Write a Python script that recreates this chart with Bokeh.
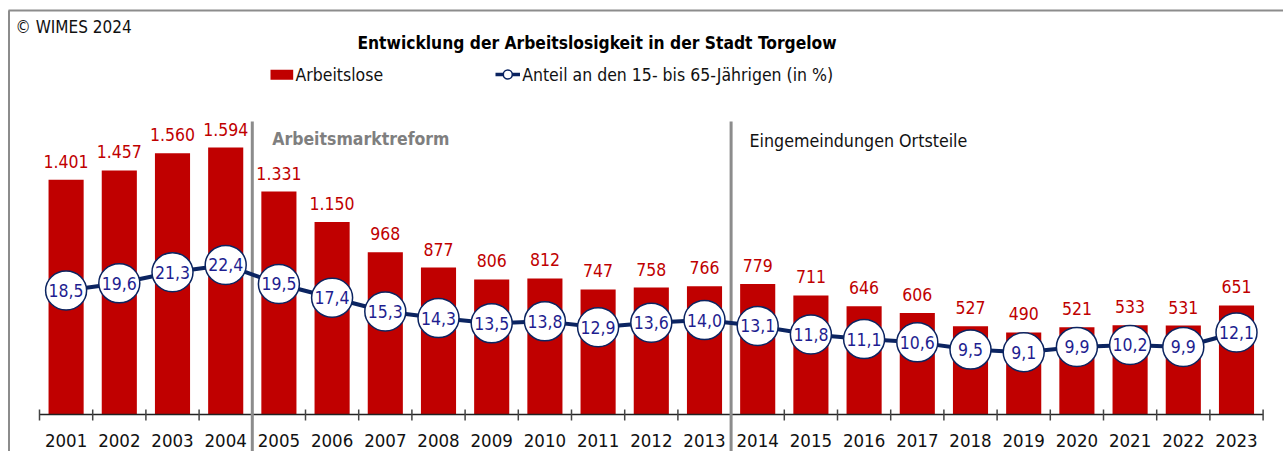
from bokeh.plotting import figure
from bokeh.models import Range1d, ColumnDataSource
from bokeh.core.properties import value
from bokeh.embed import file_html
from bokeh.resources import INLINE

# ---------------- data ----------------
years = ["2001", "2002", "2003", "2004", "2005", "2006", "2007", "2008", "2009", "2010",
         "2011", "2012", "2013", "2014", "2015", "2016", "2017", "2018", "2019", "2020",
         "2021", "2022", "2023"]
arbeitslose = [1401, 1457, 1560, 1594, 1331, 1150, 968, 877, 806, 812, 747, 758, 766,
               779, 711, 646, 606, 527, 490, 521, 533, 531, 651]
anteil = [18.5, 19.6, 21.3, 22.4, 19.5, 17.4, 15.3, 14.3, 13.5, 13.8, 12.9, 13.6, 14.0,
          13.1, 11.8, 11.1, 10.6, 9.5, 9.1, 9.9, 10.2, 9.9, 12.1]
title_text = "Entwicklung der Arbeitslosigkeit in der Stadt Torgelow"
copyright_text = "© WIMES 2024"
legend_bar = "Arbeitslose"
legend_line = "Anteil an den 15- bis 65-Jährigen (in %)"
events = ["Arbeitsmarktreform", "Eingemeindungen Ortsteile"]
event_after = [4.5, 13.5]   # boundaries between categories (2004|2005, 2013|2014)

# ---------------- layout helpers (page pixels -> data) ----------------
W, H = 1283, 451
OFF = 0
PITCH = 53.2
C1 = 65.6          # page x of first category centre
BASE = 414.0       # page y of bar baseline
K1 = 0.1675        # px per Arbeitslose unit
LBASE = 411.4      # page y of pct zero
K2 = 6.56          # px per percent


def X(px):
    return 1 + (px - C1) / PITCH


def Y(py):
    return (BASE - py) / K1


FONT = value("DejaVu Sans Condensed")
RED = "#C00000"
NAVY = "#0B2461"
LBLUE = "#1E1E90"
GRAY = "#8C8C8C"

xs = list(range(1, len(years) + 1))

p = figure(width=W, height=H,
           x_range=Range1d(X(OFF), X(OFF + W)),
           y_range=Range1d(Y(OFF + H), Y(OFF)),
           output_backend="svg", toolbar_location=None,
           x_axis_type=None, y_axis_type=None, min_border=0)
p.extra_y_ranges = {"pct": Range1d((LBASE - (OFF + H)) / K2, (LBASE - OFF) / K2)}
p.grid.visible = False
p.outline_line_color = None
p.background_fill_color = "white"
p.border_fill_color = "white"

src = ColumnDataSource(dict(
    x=xs, year=years, val=arbeitslose, pct=anteil,
    val_lbl=[f"{v:,}".replace(",", ".") for v in arbeitslose],
    pct_lbl=[f"{v:.1f}".replace(".", ",") for v in anteil],
))

# outer frame (top and left)
p.segment(x0=X(8), y0=Y(10), x1=X(OFF + W), y1=Y(10), line_color=GRAY, line_width=2)
p.segment(x0=X(8.5), y0=Y(10), x1=X(8.5), y1=Y(OFF + H), line_color=GRAY, line_width=2)

# bars
p.vbar(x="x", top="val", width=0.66, source=src, fill_color=RED, line_color=None)
p.text(x="x", y="val", text="val_lbl", source=src, text_color=RED, text_font=FONT,
       text_font_size="17.5px", text_align="center", text_baseline="middle", y_offset=-18.5)

# x axis baseline, ticks and labels
n = len(years)
p.segment(x0=0.5, y0=0, x1=n + 0.5, y1=0, line_color="#222222", line_width=1.5)
bounds = [i + 0.5 for i in range(n + 1)]
p.segment(x0=bounds, y0=[Y(409)] * len(bounds), x1=bounds, y1=[Y(420)] * len(bounds),
          line_color="#444444", line_width=1.5)
p.text(x="x", y=0, text="year", source=src, text_color="#111111", text_font=FONT,
       text_font_size="18.5px", text_align="center", text_baseline="middle", y_offset=26)

# event separators and texts
p.segment(x0=event_after, y0=[Y(121)] * 2, x1=event_after, y1=[Y(OFF + H)] * 2,
          line_color=GRAY, line_width=3)
p.text(x=[X(271.7)], y=[Y(138)], text=[events[0]], text_color="#7F7F7F", text_font=FONT,
       text_font_style="bold", text_font_size="17.5px", text_align="left", text_baseline="middle")
p.text(x=[X(749)], y=[Y(140.5)], text=[events[1]], text_color="#111111", text_font=FONT,
       text_font_size="17.7px", text_align="left", text_baseline="middle")

# line with elliptical labels
p.line(x="x", y="pct", source=src, y_range_name="pct", line_color=NAVY, line_width=4)
p.ellipse(x="x", y="pct", source=src, y_range_name="pct", width=41, height=39,
          width_units="screen", height_units="screen",
          fill_color="white", line_color=NAVY, line_width=1.5)
p.text(x="x", y="pct", text="pct_lbl", source=src, y_range_name="pct", text_color=LBLUE,
       text_font=FONT, text_font_size="17.5px", text_align="center", text_baseline="middle")

# title and copyright
p.text(x=[X(596.5)], y=[Y(42)], text=[title_text], text_color="black", text_font=FONT,
       text_font_style="bold", text_font_size="17.3px", text_align="center", text_baseline="middle")
p.text(x=[X(15)], y=[Y(26.5)], text=[copyright_text], text_color="#111111", text_font=FONT,
       text_font_size="17px", text_align="left", text_baseline="middle")

# legend (manual)
p.quad(left=[X(270)], right=[X(292.7)], bottom=[Y(79.3)], top=[Y(69.3)],
       fill_color=RED, line_color=None)
p.text(x=[X(295)], y=[Y(74.5)], text=[legend_bar], text_color="#111111", text_font=FONT,
       text_font_size="17.5px", text_align="left", text_baseline="middle")
p.segment(x0=[X(495)], y0=[Y(74)], x1=[X(519.5)], y1=[Y(74)], line_color=NAVY, line_width=3.5)
p.scatter(x=[X(507.3)], y=[Y(74)], size=9, marker="circle", fill_color="white",
          line_color=NAVY, line_width=1.5)
p.text(x=[X(521.7)], y=[Y(74.5)], text=[legend_line], text_color="#111111", text_font=FONT,
       text_font_size="17.5px", text_align="left", text_baseline="middle")

open("out.html", "w").write(file_html(p, INLINE))
